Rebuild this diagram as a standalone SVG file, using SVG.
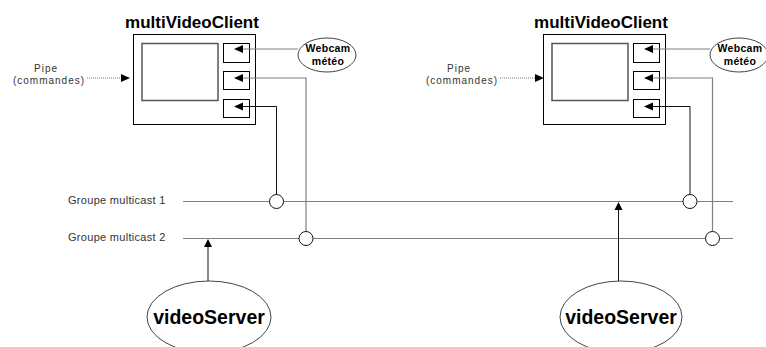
<svg xmlns="http://www.w3.org/2000/svg" width="766" height="347" viewBox="0 0 766 347">
<style>
.title{font-family:"Liberation Sans",Arial,sans-serif;font-weight:bold;font-size:17px;fill:#000;text-anchor:middle}
.srv{font-family:"Liberation Sans",Arial,sans-serif;font-weight:bold;font-size:19.5px;fill:#000;text-anchor:middle}
.cam{font-family:"Liberation Sans",Arial,sans-serif;font-weight:bold;font-size:10.5px;fill:#000;text-anchor:middle;letter-spacing:0.3px}
.lbl{font-family:"Liberation Sans",Arial,sans-serif;font-size:11px;fill:#333;letter-spacing:0.3px}
.pipe{font-family:"Liberation Sans",Arial,sans-serif;font-size:10px;fill:#333;text-anchor:middle;letter-spacing:1px}
.box{fill:#fff;stroke:#000;stroke-width:1}
.screen{fill:#fff;stroke:#555;stroke-width:1.5}
.ell{fill:#fff;stroke:#444;stroke-width:1}
.g{fill:none;stroke:#808080;stroke-width:1.2}
.k{fill:none;stroke:#111;stroke-width:1}
.dot{fill:none;stroke:#777;stroke-width:1;stroke-dasharray:1 1}
.head{fill:#000}
.junc{fill:#fff;stroke:#111;stroke-width:1}
</style>

<g id="client-left">
  <text class="title" x="192" y="28">multiVideoClient</text>
  <rect class="box" x="133.5" y="34.5" width="122" height="90"/>
  <rect class="screen" x="142" y="43.5" width="76" height="57"/>
  <rect class="box" x="223.5" y="43.5" width="26" height="19"/>
  <rect class="box" x="223.5" y="71.5" width="26" height="18"/>
  <rect class="box" x="223.5" y="99.5" width="26" height="18"/>
</g>

<g id="client-right">
  <text class="title" x="601" y="28">multiVideoClient</text>
  <rect class="box" x="543.5" y="34.5" width="122" height="90"/>
  <rect class="screen" x="552" y="43.5" width="76" height="57"/>
  <rect class="box" x="633.5" y="43.5" width="26" height="19"/>
  <rect class="box" x="633.5" y="71.5" width="26" height="18"/>
  <rect class="box" x="633.5" y="99.5" width="26" height="18"/>
</g>

<g id="webcam-left">
  <ellipse class="ell" cx="327" cy="55" rx="29" ry="17"/>
  <text class="cam" x="328" y="52">Webcam</text>
  <text class="cam" x="328" y="65">météo</text>
</g>

<g id="webcam-right">
  <ellipse class="ell" cx="739" cy="55" rx="29" ry="17"/>
  <text class="cam" x="740" y="52">Webcam</text>
  <text class="cam" x="740" y="65">météo</text>
</g>

<g id="pipe-left">
  <text class="pipe" x="46" y="71.5">Pipe</text>
  <text class="pipe" x="49" y="84">(commandes)</text>
</g>

<g id="pipe-right">
  <text class="pipe" x="459" y="71.5">Pipe</text>
  <text class="pipe" x="462" y="84">(commandes)</text>
</g>

<g id="group-labels">
  <text class="lbl" x="68" y="204">Groupe multicast 1</text>
  <text class="lbl" x="68" y="240.5">Groupe multicast 2</text>
</g>

<g id="server-left">
  <ellipse class="ell" cx="209" cy="317" rx="62" ry="36"/>
  <text class="srv" x="209" y="324">videoServer</text>
</g>

<g id="server-right">
  <ellipse class="ell" cx="621" cy="317" rx="61" ry="36"/>
  <text class="srv" x="621" y="324">videoServer</text>
</g>

<g id="connectors">
  <!-- multicast group lines -->
  <line class="g" x1="183" y1="201.5" x2="733" y2="201.5"/>
  <line class="g" x1="183" y1="238.5" x2="733" y2="238.5"/>
  <!-- left client -->
  <polyline class="g" points="242,49 298,49"/>
  <polyline class="g" points="242,78 306,78 306,231.5"/>
  <polyline class="k" points="242,106.5 276.5,106.5 276.5,194.5"/>
  <polygon class="head" points="234,49 243,45 243,53"/>
  <polygon class="head" points="234,78 243,74 243,82"/>
  <polygon class="head" points="234,106.5 243,102.5 243,110.5"/>
  <circle class="junc" cx="276.5" cy="201.5" r="7"/>
  <circle class="junc" cx="306" cy="238.5" r="7"/>
  <line class="dot" x1="87" y1="78" x2="121" y2="78"/>
  <polygon class="head" points="130,78 121,74 121,82"/>
  <!-- right client -->
  <polyline class="g" points="652,49 710,49"/>
  <polyline class="g" points="652,78 712.5,78 712.5,231.5"/>
  <polyline class="k" points="652,106.5 690,106.5 690,194.5"/>
  <polygon class="head" points="644,49 653,45 653,53"/>
  <polygon class="head" points="644,78 653,74 653,82"/>
  <polygon class="head" points="644,106.5 653,102.5 653,110.5"/>
  <circle class="junc" cx="690" cy="201.5" r="7"/>
  <circle class="junc" cx="712.5" cy="238.5" r="7"/>
  <line class="dot" x1="500" y1="78" x2="535" y2="78"/>
  <polygon class="head" points="544,78 535,74 535,82"/>
  <!-- servers -->
  <line class="k" x1="208" y1="281" x2="208" y2="247"/>
  <polygon class="head" points="208,239 204,247 212,247"/>
  <line class="k" x1="618.5" y1="281" x2="618.5" y2="210"/>
  <polygon class="head" points="618.5,202 614.5,210 622.5,210"/>
</g>
</svg>
